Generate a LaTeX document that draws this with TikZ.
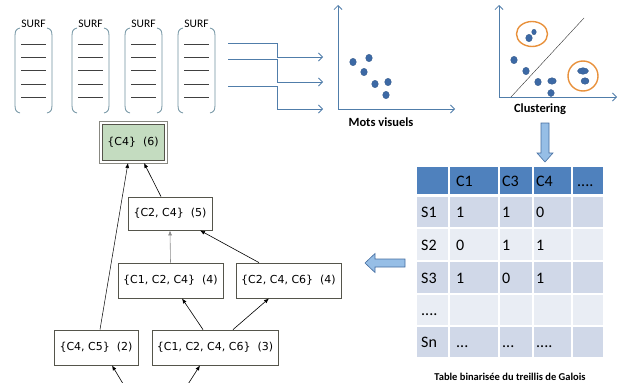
\documentclass[tikz,border=0pt]{standalone}
\usepackage{fontspec}
\setmainfont{Carlito}
\newfontfamily\dejavu{DejaVu Sans}
\usetikzlibrary{arrows.meta}
\definecolor{axisblue}{RGB}{80,125,170}
\definecolor{dotblue}{RGB}{60,105,165}
\definecolor{orangec}{RGB}{232,145,60}
\definecolor{bracketc}{RGB}{110,145,160}
\definecolor{hdrblue}{RGB}{79,129,189}
\definecolor{rowdark}{RGB}{208,216,232}
\definecolor{rowlight}{RGB}{233,237,244}
\definecolor{blockfill}{RGB}{150,190,230}
\definecolor{blockdraw}{RGB}{70,110,160}
\definecolor{latborder}{RGB}{85,85,75}
\definecolor{latgreen}{RGB}{196,220,192}
\tikzset{
  bracket/.style={draw=bracketc, line width=0.8pt},
  surfline/.style={draw=black!75, line width=0.9pt},
  flow/.style={draw=axisblue, line width=0.8pt},
  flowarrow/.style={flow, -{Straight Barb[length=4pt,width=8pt]}},
  dot/.style={fill=dotblue, draw=dotblue!80!black, line width=0.3pt},
  clus/.style={draw=orangec, line width=1.4pt},
  lat/.style={draw=latborder, line width=0.8pt, fill=white, inner sep=0pt,
    font=\dejavu\fontsize{11}{13}\selectfont},
  latedge/.style={draw=black, line width=0.6pt, -{Latex[length=5pt,width=4pt]}},
  blockarrow/.style={fill=blockfill, draw=blockdraw, line width=0.6pt},
  celltext/.style={anchor=base west, font=\fontsize{16}{18}\selectfont, inner sep=0pt},
  plotlabel/.style={font=\bfseries\fontsize{12.5}{14}\selectfont},
}
\begin{document}
\begin{tikzpicture}[x=1pt,y=-1pt]
\useasboundingbox (0,0) rectangle (622,383);
% SURF brackets
\foreach \x in {15,72,125,178}{
  \draw[bracket] (\x+5,28) .. controls (\x+1,29) and (\x,31) .. (\x,36) -- (\x,105) .. controls (\x,110) and (\x+1,112) .. (\x+5,113);
  \draw[bracket] (\x+32,28) .. controls (\x+36,29) and (\x+37,31) .. (\x+37,36) -- (\x+37,105) .. controls (\x+37,110) and (\x+36,112) .. (\x+32,113);
  \node[font=\fontsize{11.5}{13}\selectfont, inner sep=0pt] (surf\x) at (\x+18.5,23.5) {SURF};
  \foreach \yy in {44,57,70,84,97}{
    \draw[surfline] (\x+6,\yy) -- (\x+31,\yy);
  }
}
% arrows to Mots visuels
\coordinate (s1) at (228,43);
\coordinate (s2) at (228,59);
\coordinate (s3) at (228,86);
\coordinate (m1) at (323,57);
\coordinate (m2) at (323,82);
\coordinate (m3) at (323,109);
\draw[flowarrow] (s1) -| (277,57) -- (m1);
\draw[flowarrow] (s2) -| (277,82) -- (m2);
\draw[flowarrow] (s3) -| (277,109) -- (m3);
% Mots visuels axes
\coordinate (mo) at (338,109);
\draw[flowarrow] (mo) -- (338,5);
\draw[flowarrow] (mo) -- (455,109);
\foreach \p in {(353,62),(369,58),(364,72),(375,84),(388,82),(386,95)}{
  \fill[dot] \p ellipse (3.3 and 3.8);
}
\node[plotlabel] (mots) at (381,122) {Mots visuels};
% Clustering
\coordinate (co) at (499,97);
\draw[flowarrow] (co) -- (499,5);
\draw[flowarrow] (co) -- (617,97);
\draw[black!80, line width=0.4pt] (511,97) -- (584,18);
\draw[clus] (532,34) ellipse (15.5 and 12.5);
\draw[clus] (583,76) ellipse (15 and 15);
\fill[dot] (529,38) ellipse (3.3 and 3.8);
\fill[dot] (534,32) ellipse (2.3 and 2.8);
\fill[dot] (514,60) ellipse (3.3 and 3.8);
\fill[dot] (526,71) ellipse (3.3 and 3.8);
\fill[dot] (538,82) ellipse (3.3 and 3.8);
\fill[dot] (552,81) ellipse (4.3 and 3.3);
\fill[dot] (551,93) ellipse (3.3 and 3.5);
\fill[dot] (583,71) ellipse (5.5 and 3.3);
\fill[dot] (585,81) ellipse (4 and 3.3);
\node[plotlabel] (clustering) at (540,109) {Clustering};
% down block arrow
\draw[blockarrow] (541,123) -- (549,123) -- (549,153) -- (553,153) -- (545,162) -- (537,153) -- (541,153) -- cycle;
% table
\fill[hdrblue] (417,167) rectangle (603,195);
\fill[rowdark] (417,195) rectangle (603,228);
\fill[rowlight] (417,228) rectangle (603,261);
\fill[rowdark] (417,261) rectangle (603,294);
\fill[rowlight] (417,294) rectangle (603,326);
\fill[rowdark] (417,326) rectangle (603,357);
\foreach \cx in {449,499,533,572}{
  \draw[white, line width=1.5pt] (\cx,167) -- (\cx,357);
}
\foreach \ry in {195,228,261,294,326}{
  \draw[white, line width=1.5pt] (417,\ry) -- (603,\ry);
}
\draw[white, line width=2.5pt] (417,196) -- (603,196);
% header
\node[celltext] (hc1) at (456,186.5) {C1};
\node[celltext] (hc3) at (502,186.5) {C3};
\node[celltext] (hc4) at (536,186.5) {C4};
\node[celltext] (hcd) at (577,186.5) {....};
% rows
\node[celltext] (r1) at (421,217) {S1};
\node[celltext] (r1a) at (456,217) {1};
\node[celltext] (r1b) at (502,217) {1};
\node[celltext] (r1c) at (536,217) {0};
\node[celltext] (r2) at (421,250) {S2};
\node[celltext] (r2a) at (456,250) {0};
\node[celltext] (r2b) at (502,250) {1};
\node[celltext] (r2c) at (536,250) {1};
\node[celltext] (r3) at (421,283) {S3};
\node[celltext] (r3a) at (456,283) {1};
\node[celltext] (r3b) at (502,283) {0};
\node[celltext] (r3c) at (536,283) {1};
\node[celltext] (r4) at (421,315.5) {....};
\node[celltext] (r5) at (421,347) {Sn};
\node[celltext] (r5a) at (456,347) {...};
\node[celltext] (r5b) at (502,347) {...};
\node[celltext] (r5c) at (536,347) {....};
\node[font=\bfseries\fontsize{10.5}{12}\selectfont] (cap) at (510,377) {Table binarisée du treillis de Galois};
% left block arrow
\draw[blockarrow] (405,259) -- (375,259) -- (375,253.5) -- (365,263) -- (375,272.5) -- (375,267) -- (405,267) -- cycle;
% lattice
\node[lat, fill=latgreen, minimum width=62pt, minimum height=36pt, outer sep=3pt] (c4) at (133,142) {\{C4\}\ \ (6)};
\draw[latborder!70, line width=0.8pt] (99,121) rectangle (167,163);
\node[lat, minimum width=84pt, minimum height=33pt] (c24) at (170,213.5) {\{C2, C4\}\ \ (5)};
\node[lat, minimum width=105pt, minimum height=35pt] (c124) at (170.5,280.5) {\{C1, C2, C4\}\ \ (4)};
\node[lat, minimum width=105pt, minimum height=35pt] (c246) at (288.5,280.5) {\{C2, C4, C6\}\ \ (4)};
\node[lat, minimum width=84pt, minimum height=35pt] (c45) at (96,347.5) {\{C4, C5\}\ \ (2)};
\node[lat, minimum width=126pt, minimum height=35pt] (c1246) at (215,347.5) {\{C1, C2, C4, C6\}\ \ (3)};
\coordinate (b1) at (128,392);
\coordinate (b2) at (183,392);
\draw[latedge, line width=0.5pt] ([xshift=4]c45.north) -- ([xshift=-5]c4.south);
\draw[latedge] ([xshift=-9]c24.north) -- ([xshift=11]c4.south);
\draw[latedge, draw=black!45] (c124.north) -- (c24.south);
\draw[latedge] ([xshift=-29.5]c246.north) -- ([xshift=30]c24.south);
\draw[latedge] ([xshift=-12]c1246.north) -- ([xshift=11.5]c124.south);
\draw[latedge] ([xshift=18]c1246.north) -- ([xshift=-19.5]c246.south);
\draw[latedge] (b1) -- ([xshift=16]c45.south);
\draw[latedge] (b2) -- ([xshift=-15]c1246.south);
\end{tikzpicture}
\end{document}
